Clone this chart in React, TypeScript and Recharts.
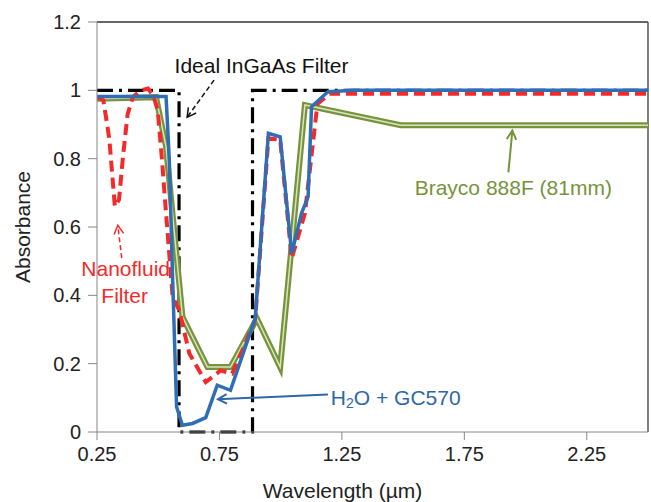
import { LineChart, Line, XAxis, YAxis, ReferenceLine, ReferenceDot } from "recharts";

// wavelength (µm) / absorbance
const idealX = [0.25, 0.585, 0.585, 0.885, 0.885, 2.5];
const idealY = [1, 1, 0, 0, 1, 1];

const nanoX = [0.25, 0.276, 0.3, 0.323, 0.34, 0.356, 0.375, 0.397, 0.43, 0.458, 0.48, 0.498, 0.515, 0.532, 0.559, 0.586, 0.627, 0.694, 0.755, 0.802, 0.85, 0.896, 0.95, 0.998, 1.045, 1.099, 1.15, 1.2, 1.3, 2.5];
const nanoY = [0.98, 0.971, 0.86, 0.66, 0.68, 0.805, 0.93, 0.981, 1.0, 1.005, 0.985, 0.942, 0.8, 0.64, 0.395, 0.356, 0.23, 0.146, 0.18, 0.171, 0.25, 0.33, 0.86, 0.855, 0.508, 0.64, 0.96, 0.99, 0.99, 0.99];

const blueX = [0.25, 0.45, 0.532, 0.545, 0.559, 0.575, 0.599, 0.64, 0.694, 0.741, 0.795, 0.896, 0.95, 0.998, 1.045, 1.085, 1.112, 1.126, 1.193, 1.3, 2.5];
const blueY = [0.982, 0.982, 0.982, 0.8, 0.444, 0.073, 0.02, 0.025, 0.042, 0.137, 0.122, 0.332, 0.874, 0.864, 0.522, 0.64, 0.688, 0.952, 0.996, 1.0, 1.0];

const brayX = [0.25, 0.491, 0.532, 0.599, 0.701, 0.795, 0.903, 0.998, 1.099, 1.49, 2.5];
const brayY = [0.975, 0.98, 0.835, 0.337, 0.19, 0.19, 0.332, 0.19, 0.957, 0.898, 0.898];

const xTicks = [0.25, 0.75, 1.25, 1.75, 2.25];
const yTicks = [0, 0.2, 0.4, 0.6, 0.8, 1, 1.2];

const pts = (xs: number[], ys: number[]) => xs.map((x, i) => ({ x, y: ys[i] }));

const FONT = "'Liberation Sans', Arial, sans-serif";
const ANN = 21;

const arrow = (color: string, dash?: string, w = 1.5) => (p: any) => {
  const { x1, y1, x2, y2 } = p;
  const a = Math.atan2(y2 - y1, x2 - x1);
  const h = 10;
  const l = [x2 - h * Math.cos(a - 0.5), y2 - h * Math.sin(a - 0.5)];
  const r = [x2 - h * Math.cos(a + 0.5), y2 - h * Math.sin(a + 0.5)];
  return (
    <g>
      <line x1={x1} y1={y1} x2={x2} y2={y2} stroke={color} strokeWidth={w} strokeDasharray={dash} />
      <polyline points={`${l[0]},${l[1]} ${x2},${y2} ${r[0]},${r[1]}`} fill="none" stroke={color} strokeWidth={w} />
    </g>
  );
};

const label = (txt: string, color: string, anchor: "start" | "middle" = "middle") => (p: any) => (
  <text x={p.cx} y={p.cy} fill={color} fontSize={ANN} fontFamily={FONT} textAnchor={anchor} dominantBaseline="central">
    {txt}
  </text>
);

const h2oLabel = (p: any) => (
  <text x={p.cx} y={p.cy} fill="#2F67A8" fontSize={ANN} fontFamily={FONT} dominantBaseline="central">
    <tspan>H</tspan>
    <tspan fontSize={14} dy={6}>2</tspan>
    <tspan dy={-6}>O + GC570</tspan>
  </text>
);

export default function App() {
  return (
    <div style={{ position: "absolute", left: 0, top: 0 }}>
      <LineChart width={651} height={502} margin={{ top: 22, right: 3, bottom: 0, left: 17 }} style={{ fontFamily: FONT }}>
        <XAxis
          dataKey="x" type="number" domain={[0.25, 2.5]} ticks={xTicks}
          allowDataOverflow interval={0}
          stroke="#868686" tickSize={8} tickMargin={7} height={70}
          tick={{ fill: "#222", fontSize: 20 }}
          label={{ value: "Wavelength (µm)", position: "insideBottom", offset: 4, dx: -30, fill: "#222", fontSize: 21 }}
        />
        <YAxis
          type="number" domain={[0, 1.2]} ticks={yTicks} interval={0}
          stroke="#868686" tickSize={9} tickMargin={7} width={80}
          tick={{ fill: "#222", fontSize: 20 }}
          label={{ value: "Absorbance", angle: -90, position: "insideLeft", offset: 6, fill: "#222", fontSize: 21, style: { textAnchor: "middle" } }}
        />
        <ReferenceLine y={1.2} stroke="#333" strokeWidth={1.5} />
        <ReferenceLine x={2.5} stroke="#555" strokeWidth={1.5} />

        <Line data={pts(idealX, idealY)} dataKey="y" type="linear" stroke="#000" strokeWidth={3.2}
          strokeDasharray="16 6 3 6" dot={false} isAnimationActive={false} />
        <Line data={pts(brayX, brayY)} dataKey="y" type="linear" stroke="#77933C" strokeWidth={6}
          dot={false} isAnimationActive={false} />
        <Line data={pts(brayX, brayY)} dataKey="y" type="linear" stroke="#D8E4BC" strokeWidth={1.5}
          dot={false} isAnimationActive={false} />
        <Line data={pts(nanoX, nanoY)} dataKey="y" type="linear" stroke="#F42A2A" strokeWidth={4}
          strokeDasharray="11 6" dot={false} isAnimationActive={false} />
        <Line data={pts(blueX, blueY)} dataKey="y" type="linear" stroke="#2F6DB5" strokeWidth={3.5}
          dot={false} isAnimationActive={false} />

        <ReferenceDot x={0.922} y={1.074} shape={label("Ideal InGaAs Filter", "#111")} />
        <ReferenceLine segment={[{ x: 0.728, y: 1.03 }, { x: 0.618, y: 0.921 }]} shape={arrow("#111", "5 3")} />

        <ReferenceDot x={0.367} y={0.479} shape={label("Nanofluid", "#F42A2A")} />
        <ReferenceDot x={0.363} y={0.4} shape={label("Filter", "#F42A2A")} />
        <ReferenceLine segment={[{ x: 0.351, y: 0.509 }, { x: 0.335, y: 0.605 }]} shape={arrow("#F42A2A", "5 3")} />

        <ReferenceDot x={1.205} y={0.102} shape={h2oLabel} />
        <ReferenceLine segment={[{ x: 1.193, y: 0.11 }, { x: 0.744, y: 0.096 }]} shape={arrow("#2F67A8", undefined, 2)} />

        <ReferenceDot x={1.95} y={0.717} shape={label("Brayco 888F (81mm)", "#77933C")} />
        <ReferenceLine segment={[{ x: 1.93, y: 0.76 }, { x: 1.946, y: 0.882 }]} shape={arrow("#77933C", undefined, 2)} />
      </LineChart>
    </div>
  );
}
